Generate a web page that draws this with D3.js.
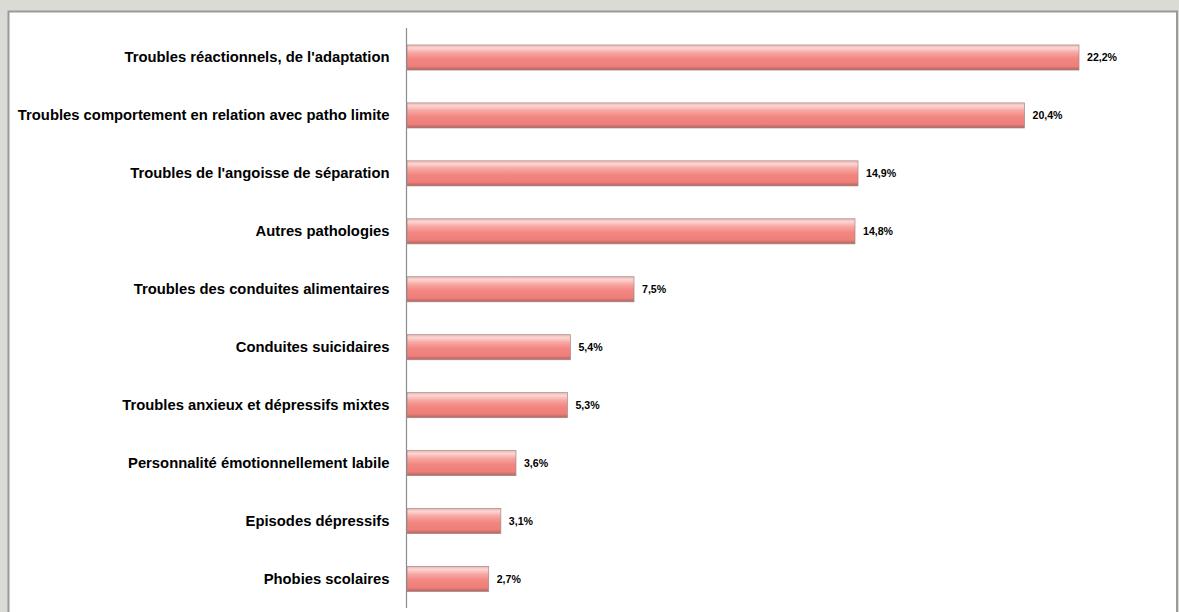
<!DOCTYPE html>
<html><head><meta charset="utf-8">
<script src="https://cdn.jsdelivr.net/npm/d3@7"></script>
<style>
html,body{margin:0;padding:0;background:#d9dbd4;}
svg{display:block;}
</style></head>
<body>
<svg id="chart" width="1179" height="612"></svg>
<script>
const categories = [
  "Troubles réactionnels, de l'adaptation",
  "Troubles comportement en relation avec patho limite",
  "Troubles de l'angoisse de séparation",
  "Autres pathologies",
  "Troubles des conduites alimentaires",
  "Conduites suicidaires",
  "Troubles anxieux et dépressifs mixtes",
  "Personnalité émotionnellement labile",
  "Episodes dépressifs",
  "Phobies scolaires"
];
const values = [22.2, 20.4, 14.9, 14.8, 7.5, 5.4, 5.3, 3.6, 3.1, 2.7];
const valueLabels = ["22,2%","20,4%","14,9%","14,8%","7,5%","5,4%","5,3%","3,6%","3,1%","2,7%"];

const svg = d3.select("#chart");
// panel
svg.append("rect").attr("x",8.5).attr("y",11.5).attr("width",1168.5).attr("height",610)
  .attr("fill","#ffffff").attr("stroke","#9a9a9a").attr("stroke-width",2);

const defs = svg.append("defs");
const g = defs.append("linearGradient").attr("id","barGrad").attr("x1",0).attr("y1",0).attr("x2",0).attr("y2",1);
[[0,"#f2b4b0"],[0.12,"#fcd6d4"],[0.3,"#f8a8a3"],[0.55,"#f28681"],[0.85,"#ee7e79"],[1,"#b0625f"]]
  .forEach(([o,c])=>g.append("stop").attr("offset",o).attr("stop-color",c));

const x = d3.scaleLinear().domain([0, 22.2]).range([407, 1079]);
const y = d3.scaleBand().domain(categories).range([28.5, 608]).paddingInner(0.567).paddingOuter(0.284);

const bars = svg.append("g");
bars.selectAll("rect").data(values).join("rect")
  .attr("x", x(0))
  .attr("y", (d,i)=>y(categories[i]))
  .attr("width", d=>x(d)-x(0))
  .attr("height", y.bandwidth())
  .attr("fill","url(#barGrad)")
  .attr("stroke","#a08a89").attr("stroke-width",0.7);

// axis
const axis = d3.axisLeft(y).tickSize(0).tickPadding(17);
const ag = svg.append("g").attr("transform",`translate(${x(0)-0.5},0)`).call(axis);
ag.select(".domain").attr("stroke","#8c8c8c").attr("stroke-width",1.2).attr("d",`M0,28V608`);
ag.selectAll("text").attr("font-family","'Liberation Sans', Arial, sans-serif")
  .attr("font-weight","bold").attr("font-size","14.8px").attr("fill","#000");

svg.append("g").selectAll("text").data(values).join("text")
  .attr("x", d=>x(d)+8)
  .attr("y", (d,i)=>y(categories[i])+y.bandwidth()/2)
  .attr("dy","0.35em")
  .attr("font-family","'Liberation Sans', Arial, sans-serif")
  .attr("font-weight","bold").attr("font-size","10.6px").attr("fill","#000")
  .text((d,i)=>valueLabels[i]);
</script>
</body></html>
